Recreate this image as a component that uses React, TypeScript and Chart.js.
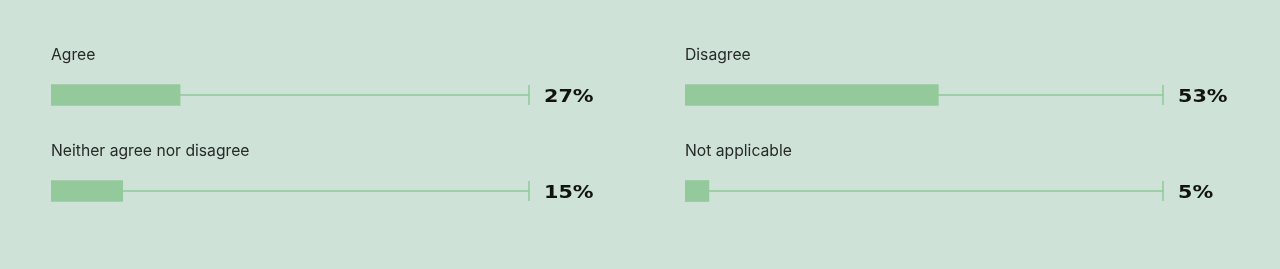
import React, { useEffect, useRef } from "react";
import { Chart, registerables } from "chart.js";

Chart.register(...registerables);

const leftCategories = ["Agree", "Neither agree nor disagree"];
const leftValues = [27, 15];
const rightCategories = ["Disagree", "Not applicable"];
const rightValues = [53, 5];
const maxValue = 100;

const BG = "#cee2d8";
const BAR = "#94c99b";
const TRACK = "#8fc898";
const TEXT = "#262a28";
const VALUE_TEXT = "#111311";

const trackPlugin = {
  id: "track",
  beforeDatasetsDraw(chart: any) {
    const ctx = chart.ctx;
    const xScale = chart.scales.x;
    const meta = chart.getDatasetMeta(0);
    const end = xScale.getPixelForValue(maxValue);
    ctx.save();
    ctx.strokeStyle = TRACK;
    ctx.lineWidth = 1.5;
    meta.data.forEach((bar: any) => {
      const y = bar.y;
      ctx.beginPath();
      ctx.moveTo(bar.base, y);
      ctx.lineTo(end, y);
      ctx.stroke();
      ctx.beginPath();
      ctx.moveTo(end, y - 10);
      ctx.lineTo(end, y + 10);
      ctx.stroke();
    });
    ctx.restore();
  },
  afterDatasetsDraw(chart: any) {
    const ctx = chart.ctx;
    const xScale = chart.scales.x;
    const meta = chart.getDatasetMeta(0);
    const labels = chart.data.labels;
    const values = chart.data.datasets[0].data;
    const end = xScale.getPixelForValue(maxValue);
    ctx.save();
    meta.data.forEach((bar: any, i: number) => {
      const y = bar.y;
      ctx.fillStyle = TEXT;
      ctx.textAlign = "left";
      ctx.textBaseline = "alphabetic";
      ctx.font = "15.7px Inter";
      ctx.fillText(labels[i], xScale.getPixelForValue(0), y - 34.6);
      ctx.save();
      ctx.fillStyle = VALUE_TEXT;
      ctx.font = "bold 18px 'DejaVu Sans'";
      ctx.translate(end + 15, y + 7);
      ctx.scale(1.15, 1);
      ctx.fillText(values[i] + "%", 0, 0);
      ctx.restore();
    });
    ctx.restore();
  },
};

function BarColumn({ labels, values, padLeft, padRight }: any) {
  const ref = useRef<HTMLCanvasElement>(null);
  useEffect(() => {
    if (!ref.current) return;
    const chart = new Chart(ref.current, {
      type: "bar",
      data: {
        labels,
        datasets: [
          {
            data: values,
            backgroundColor: BAR,
            borderWidth: 0,
            barThickness: 21,
          },
        ],
      },
      options: {
        indexAxis: "y",
        responsive: false,
        animation: false,
        devicePixelRatio: 1,
        layout: { padding: { top: 47, bottom: 30, left: padLeft, right: padRight } },
        scales: {
          x: { display: false, min: 0, max: maxValue, grid: { display: false } },
          y: { display: false, grid: { display: false } },
        },
        plugins: {
          legend: { display: false },
          tooltip: { enabled: false },
        },
      },
      plugins: [trackPlugin],
    } as any);
    return () => chart.destroy();
  }, []);
  return <canvas ref={ref} width={640} height={269} style={{ display: "block" }} />;
}

export default function App() {
  return (
    <div
      style={{
        position: "fixed",
        top: 0,
        left: 0,
        width: 1280,
        height: 269,
        background: BG,
        display: "flex",
      }}
    >
      <BarColumn labels={leftCategories} values={leftValues} padLeft={51} padRight={111} />
      <BarColumn labels={rightCategories} values={rightValues} padLeft={45} padRight={117} />
    </div>
  );
}
